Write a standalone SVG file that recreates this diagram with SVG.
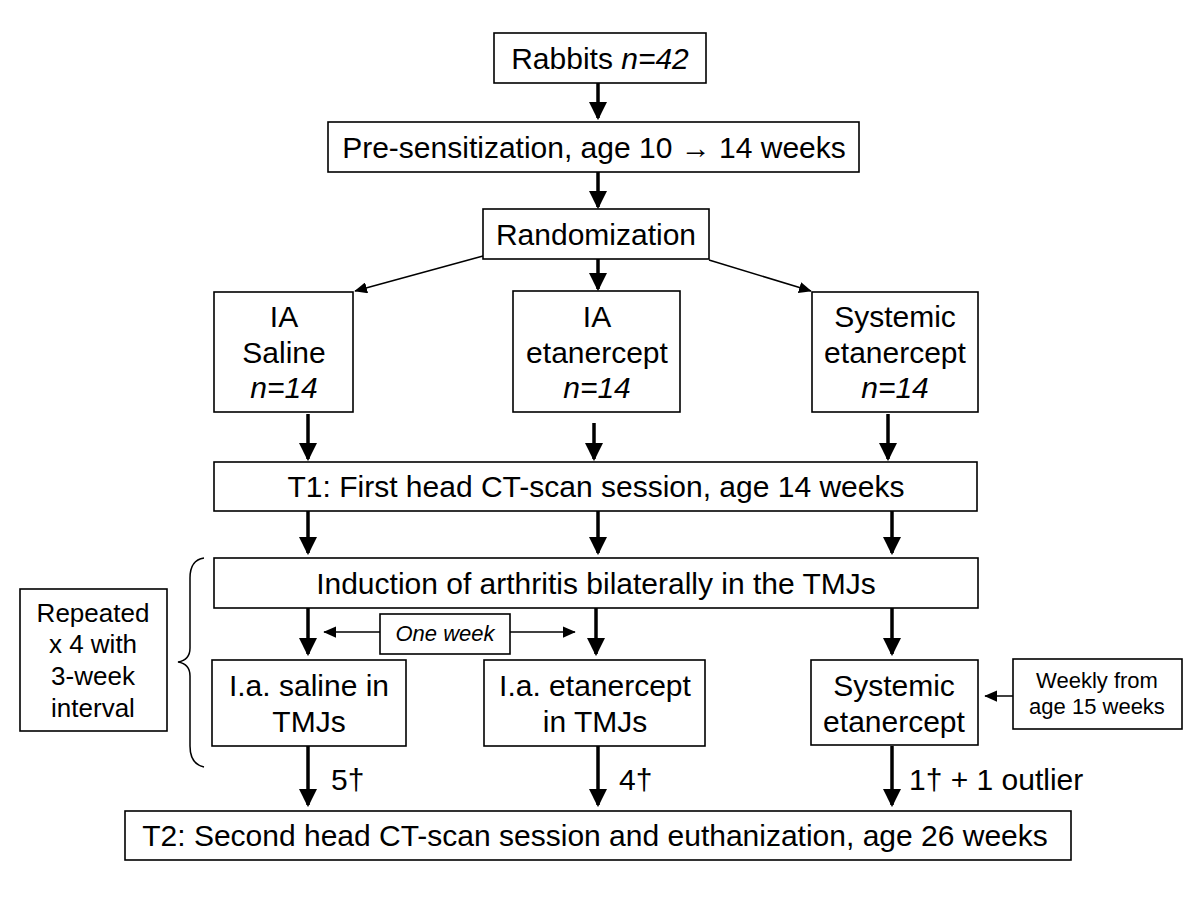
<svg xmlns="http://www.w3.org/2000/svg" width="1200" height="900" viewBox="0 0 1200 900">
<style>
.box{fill:#fff;stroke:#000;stroke-width:1.6}
.t{font-family:"Liberation Sans",Arial,sans-serif;font-size:30px;fill:#000;text-anchor:middle}
.m{font-size:26px}
.s{font-size:22px}
.c{stroke:#000;stroke-width:3.5;fill:none}
.d{stroke:#000;stroke-width:1.5;fill:none}
</style>
<defs>
<marker id="ah" markerWidth="5.2" markerHeight="5.2" refX="4.6" refY="2.6" orient="auto" markerUnits="strokeWidth"><path d="M0,0 L5.2,2.6 L0,5.2 Z" fill="#000"/></marker>
<marker id="ahs" markerWidth="8.5" markerHeight="7.5" refX="8" refY="3.75" orient="auto" markerUnits="strokeWidth"><path d="M0,0 L8.5,3.75 L0,7.5 Z" fill="#000"/></marker>
</defs>
<rect width="1200" height="900" fill="#fff"/>
<g id="connectors">
<line class="c" x1="598" y1="83" x2="598" y2="118" marker-end="url(#ah)"/>
<line class="c" x1="598" y1="172" x2="598" y2="207" marker-end="url(#ah)"/>
<line class="d" x1="483" y1="256" x2="355" y2="291" marker-end="url(#ahs)"/>
<line class="c" x1="598" y1="259" x2="598" y2="289" marker-end="url(#ah)"/>
<line class="d" x1="709" y1="260" x2="811" y2="291" marker-end="url(#ahs)"/>
<line class="c" x1="308" y1="414" x2="308" y2="459" marker-end="url(#ah)"/>
<line class="c" x1="594" y1="423" x2="594" y2="459" marker-end="url(#ah)"/>
<line class="c" x1="888" y1="414" x2="888" y2="459" marker-end="url(#ah)"/>
<line class="c" x1="308" y1="511" x2="308" y2="553" marker-end="url(#ah)"/>
<line class="c" x1="598" y1="511" x2="598" y2="553" marker-end="url(#ah)"/>
<line class="c" x1="892" y1="511" x2="892" y2="553" marker-end="url(#ah)"/>
<line class="c" x1="308" y1="608" x2="308" y2="654" marker-end="url(#ah)"/>
<line class="c" x1="596" y1="608" x2="596" y2="654" marker-end="url(#ah)"/>
<line class="c" x1="892" y1="608" x2="892" y2="654" marker-end="url(#ah)"/>
<line class="d" x1="380" y1="632" x2="324" y2="632" marker-end="url(#ahs)"/>
<line class="d" x1="510" y1="632" x2="575" y2="632" marker-end="url(#ahs)"/>
<line class="d" x1="1013" y1="696" x2="985" y2="696" marker-end="url(#ahs)"/>
<line class="c" x1="308" y1="746" x2="308" y2="805" marker-end="url(#ah)"/>
<line class="c" x1="598" y1="746" x2="598" y2="805" marker-end="url(#ah)"/>
<line class="c" x1="892" y1="746" x2="892" y2="805" marker-end="url(#ah)"/>
<path class="d" stroke-width="1.2" d="M204,558 Q190,560 190,578 L190,648 Q190,660 178,662 Q190,664 190,676 L190,746 Q190,764 204,767"/>
</g>
<g id="rabbits"><rect class="box" x="494" y="33" width="212" height="50"/><text class="t" x="600" y="69">Rabbits <tspan font-style="italic">n=42</tspan></text></g>
<g id="presens"><rect class="box" x="328" y="122" width="531" height="50"/><text class="t" x="594" y="158">Pre-sensitization, age 10 → 14 weeks</text></g>
<g id="random"><rect class="box" x="483" y="209" width="226" height="50"/><text class="t" x="596" y="245">Randomization</text></g>
<g id="ia-saline"><rect class="box" x="214" y="292" width="139" height="120"/><text class="t" x="284" y="327">IA</text><text class="t" x="284" y="363">Saline</text><text class="t" x="284" y="398" font-style="italic">n=14</text></g>
<g id="ia-etan"><rect class="box" x="513" y="291" width="167" height="121"/><text class="t" x="597" y="327">IA</text><text class="t" x="597" y="363">etanercept</text><text class="t" x="597" y="398" font-style="italic">n=14</text></g>
<g id="sys-etan"><rect class="box" x="812" y="292" width="166" height="120"/><text class="t" x="895" y="327">Systemic</text><text class="t" x="895" y="363">etanercept</text><text class="t" x="895" y="398" font-style="italic">n=14</text></g>
<g id="t1"><rect class="box" x="214" y="462" width="763" height="49"/><text class="t" x="596" y="497">T1: First head CT-scan session, age 14 weeks</text></g>
<g id="induction"><rect class="box" x="214" y="558" width="764" height="50"/><text class="t" x="596" y="594">Induction of arthritis bilaterally in the TMJs</text></g>
<g id="repeated"><rect class="box" x="20" y="589" width="147" height="142"/><text class="t m" x="93" y="622">Repeated</text><text class="t m" x="93" y="653">x 4 with</text><text class="t m" x="93" y="685">3-week</text><text class="t m" x="93" y="717">interval</text></g>
<g id="oneweek"><rect class="box" x="380" y="614" width="130" height="40"/><text class="t s" x="445" y="641" font-style="italic">One week</text></g>
<g id="ia-saline-tmj"><rect class="box" x="212" y="660" width="194" height="86"/><text class="t" x="309" y="696">I.a. saline in</text><text class="t" x="309" y="732">TMJs</text></g>
<g id="ia-etan-tmj"><rect class="box" x="484" y="660" width="221" height="86"/><text class="t" x="595" y="696">I.a. etanercept</text><text class="t" x="595" y="732">in TMJs</text></g>
<g id="sys-etan2"><rect class="box" x="811" y="660" width="167" height="85"/><text class="t" x="894" y="696">Systemic</text><text class="t" x="894" y="732">etanercept</text></g>
<g id="weekly"><rect class="box" x="1013" y="659" width="169" height="70"/><text class="t s" x="1097" y="688">Weekly from</text><text class="t s" x="1097" y="714">age 15 weeks</text></g>
<g id="labels"><text class="t" x="331" y="790" style="text-anchor:start">5†</text><text class="t" x="619" y="790" style="text-anchor:start">4†</text><text class="t" x="909" y="790" style="text-anchor:start">1† + 1 outlier</text></g>
<g id="t2"><rect class="box" x="125" y="811" width="946" height="49"/><text class="t" x="595" y="846">T2: Second head CT-scan session and euthanization, age 26 weeks</text></g>
</svg>
